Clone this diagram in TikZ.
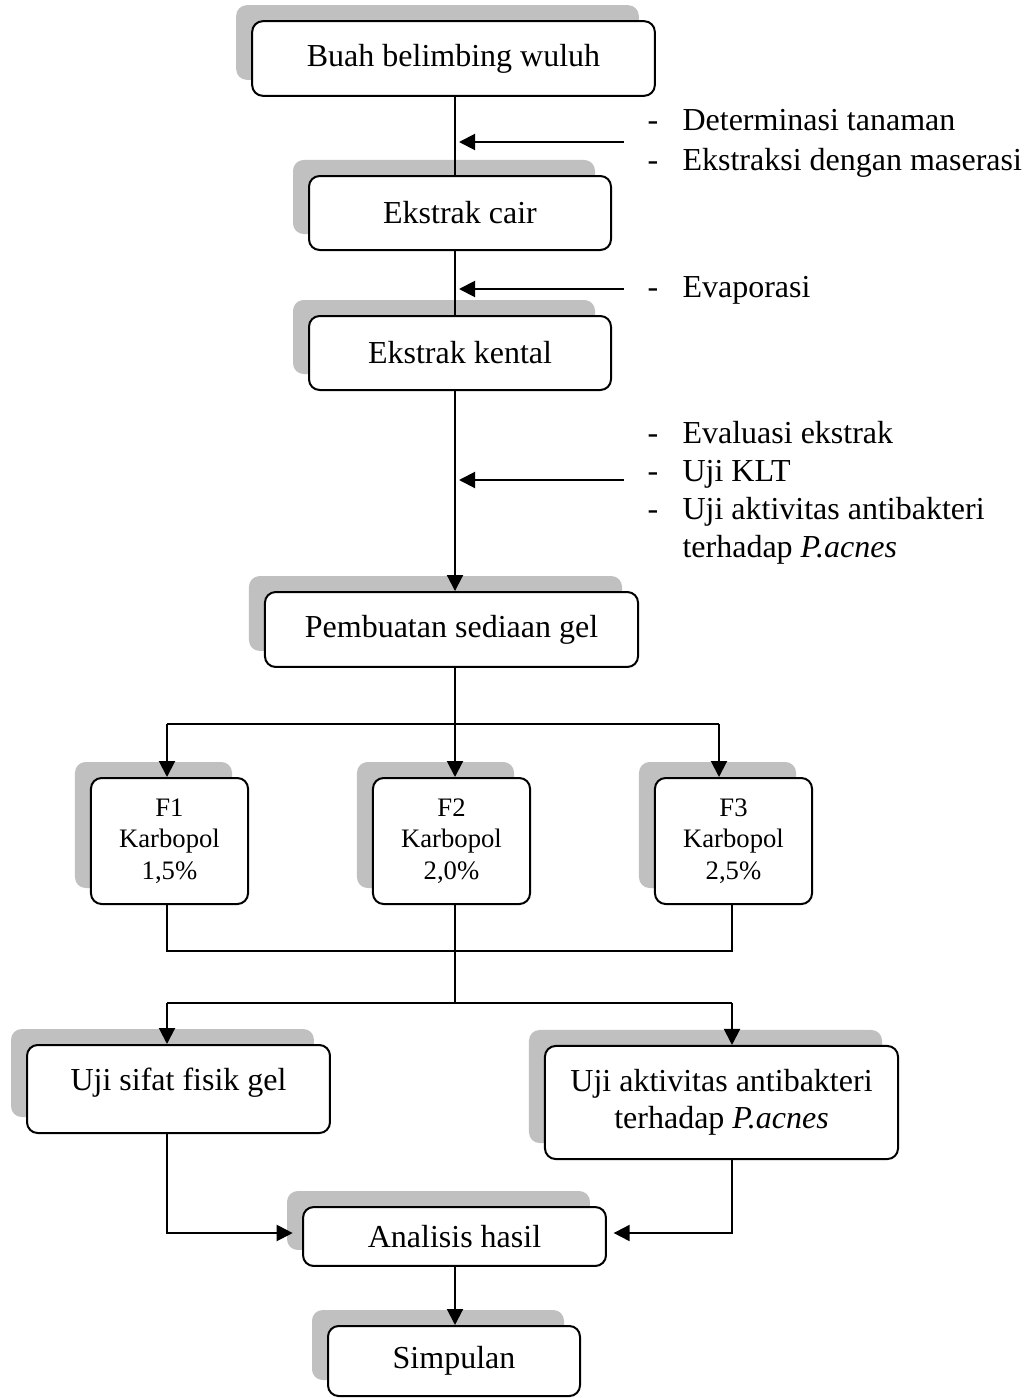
\documentclass[tikz,border=0pt]{standalone}
\usepackage{fontspec}
\setmainfont{Liberation Serif}
\usetikzlibrary{arrows.meta,shadows}
\definecolor{shadowgray}{HTML}{C0C0C0}
\begin{document}
\begin{tikzpicture}[x=0.375pt,y=-0.375pt,
  box/.style={draw, line width=0.75pt, rounded corners=4pt, fill=white, align=center,
    font=\fontsize{12}{13.9}\selectfont, inner sep=0pt,
    general shadow={fill=shadowgray, shadow xshift=-6pt, shadow yshift=6pt}},
  fbox/.style={box, font=\fontsize{10}{11.8}\selectfont},
  conn/.style={line width=0.75pt},
  arr/.style={conn, -{Triangle[length=6pt,width=6pt]}},
  note/.style={anchor=base west, font=\fontsize{12}{13.9}\selectfont, inner sep=0pt},
]
\useasboundingbox (0,0) rectangle (1029,1398);

% boxes
\node[box, minimum width=151pt, minimum height=28pt] (buah) at (453.5,58.5) {Buah belimbing wuluh};
\node[box, minimum width=113.25pt, minimum height=27.75pt] (cair) at (460,213) {Ekstrak cair};
\node[box, minimum width=113.25pt, minimum height=27.75pt] (kental) at (460,353) {Ekstrak kental};
\node[box, minimum width=139.9pt, minimum height=28.1pt] (gel) at (451.5,629.5) {Pembuatan sediaan gel};
\node[fbox, minimum width=58.9pt, minimum height=47.25pt] (f1) at (169.5,841) {F1\\Karbopol\\1,5\%};
\node[fbox, minimum width=58.9pt, minimum height=47.25pt] (f2) at (451.5,841) {F2\\Karbopol\\2,0\%};
\node[fbox, minimum width=58.9pt, minimum height=47.25pt] (f3) at (733.5,841) {F3\\Karbopol\\2,5\%};
\node[box, minimum width=113.6pt, minimum height=33pt, text height=8.5pt, text depth=7.6pt] (sifat) at (178.5,1089) {Uji sifat fisik gel};
\node[box, minimum width=132.4pt, minimum height=42.4pt] (aktiv) at (721.5,1102.5) {Uji aktivitas antibakteri\\terhadap \textit{P.acnes}};
\node[box, minimum width=113.6pt, minimum height=22.1pt] (analisis) at (454.5,1236.5) {Analisis hasil};
\node[box, minimum width=94.5pt, minimum height=26.25pt] (simpulan) at (454,1361) {Simpulan};

% side notes
\node[note] (d1) at (647,130) {-};
\node[note] (t1) at (682,130) {Determinasi tanaman};
\node[note] (d2) at (647,170) {-};
\node[note] (t2) at (682,170) {Ekstraksi dengan maserasi};
\node[note] (d3) at (647,297) {-};
\node[note] (t3) at (682,297) {Evaporasi};
\node[note] (d4) at (647,443) {-};
\node[note] (t4) at (682,443) {Evaluasi ekstrak};
\node[note] (d5) at (647,481) {-};
\node[note] (t5) at (682,481) {Uji KLT};
\node[note] (d6) at (647,519) {-};
\node[note] (t6) at (682,519) {Uji aktivitas antibakteri};
\node[note] (t7) at (682,557) {terhadap \textit{P.acnes}};

% helper coordinates
\coordinate (mx) at (455,0);
\coordinate (f1x) at (167,0);
\coordinate (f3x) at (719,0);
\coordinate (ax) at (732,0);
\coordinate (n1) at (624,142);
\coordinate (n2) at (624,289);
\coordinate (n3) at (624,480);
\coordinate (j1) at (455,724);
\coordinate (j2) at (455,951);
\coordinate (j3) at (455,1003);
\coordinate (j4) at (455,1233);

% main spine
\draw[conn] (buah.south -| mx) -- (cair.north -| mx);
\draw[conn] (cair.south -| mx) -- (kental.north -| mx);
\draw[arr] (kental.south -| mx) -- (gel.north -| mx);
\draw[arr, shorten >=1.5pt] (n1) -- (n1 -| mx);
\draw[arr, shorten >=1.5pt] (n2) -- (n2 -| mx);
\draw[arr, shorten >=1.5pt] (n3) -- (n3 -| mx);

% split to formulas
\draw[conn] (gel.south -| mx) -- (j1);
\draw[conn] (j1 -| f1x) -- (j1 -| f3x);
\draw[arr] (j1 -| f1x) -- (f1.north -| f1x);
\draw[arr] (j1) -- (f2.north -| mx);
\draw[arr] (j1 -| f3x) -- (f3.north -| f3x);

% merge from formulas
\draw[conn] (f1.south -| f1x) -- (j2 -| f1x) -- (j2 -| ax) -- (f3.south -| ax);
\draw[conn] (f2.south -| mx) -- (j3);
\draw[conn] (j3 -| f1x) -- (j3 -| ax);
\draw[arr] (j3 -| f1x) -- (sifat.north -| f1x);
\draw[arr] (j3 -| ax) -- (aktiv.north -| ax);

% to analysis
\draw[arr, shorten >=3.5pt] (sifat.south -| f1x) -- (j4 -| f1x) -- (j4 -| analisis.west);
\draw[arr, shorten >=2.5pt] (aktiv.south -| ax) -- (j4 -| ax) -- (j4 -| analisis.east);
\draw[arr] (analisis.south -| mx) -- (simpulan.north -| mx);
\end{tikzpicture}
\end{document}
